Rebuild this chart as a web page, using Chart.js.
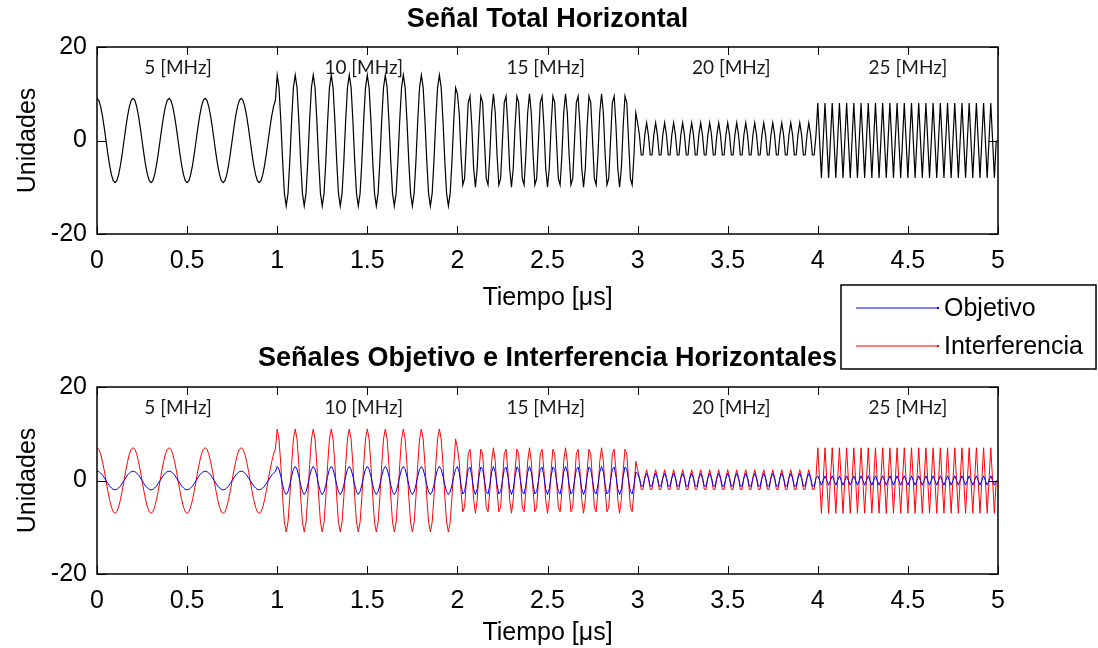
<!DOCTYPE html>
<html lang="es">
<head>
<meta charset="UTF-8">
<title>Señal Total Horizontal</title>
<script src="https://cdn.jsdelivr.net/npm/chart.js"></script>
<style>
  html, body { margin: 0; padding: 0; background: #fff; }
  #wrap { position: relative; width: 1098px; height: 648px; }
  #wrap canvas { position: absolute; left: 0; top: 0; }
</style>
</head>
<body>
<div id="wrap">
  <canvas id="topChart" width="1098" height="648"></canvas>
  <canvas id="bottomChart" width="1098" height="648"></canvas>
</div>
<script>
// muestreo cada 0.01 us; cada banda dura 1 us = 5 bloques iguales de 20 muestras
const sampleStep = 0.01;
const blocksPerBand = 5;
const bandLabels = ['5 [MHz]', '10 [MHz]', '15 [MHz]', '20 [MHz]', '25 [MHz]'];
const bandLabelX = [0.45, 1.48, 2.49, 3.52, 4.5];
const bandLabelY = 15.5;
const xTicks = [0, 0.5, 1, 1.5, 2, 2.5, 3, 3.5, 4, 4.5, 5];
const yTicks = [-20, 0, 20];

// Señal total (un bloque de 20 muestras por banda)
const total5 = [9, 8.6, 7.3, 5.3, 2.8, 0, -2.8, -5.3, -7.3, -8.6, -9, -8.6, -7.3, -5.3, -2.8, 0, 2.8, 5.3, 7.3, 8.6];
const total10 = [14, 11.3, 4.3, -4.3, -11.3, -14, -11.3, -4.3, 4.3, 11.3, 14, 11.3, 4.3, -4.3, -11.3, -14, -11.3, -4.3, 4.3, 11.3];
const total15 = [10, 5.9, -3.1, -9.5, -8.1, 0, 8.1, 9.5, 3.1, -5.9, -10, -5.9, 3.1, 9.5, 8.1, 0, -8.1, -9.5, -3.1, 5.9];
const total20 = [3.8, 1.2, -3.1, -3.1, 1.2, 3.8, 1.2, -3.1, -3.1, 1.2, 3.8, 1.2, -3.1, -3.1, 1.2, 3.8, 1.2, -3.1, -3.1, 1.2];
const total25 = [8, 0, -8, 0, 8, 0, -8, 0, 8, 0, -8, 0, 8, 0, -8, 0, 8, 0, -8, 0];

// Objetivo
const obj5 = [2, 1.9, 1.6, 1.2, 0.6, 0, -0.6, -1.2, -1.6, -1.9, -2, -1.9, -1.6, -1.2, -0.6, 0, 0.6, 1.2, 1.6, 1.9];
const obj10 = [3, 2.4, 0.9, -0.9, -2.4, -3, -2.4, -0.9, 0.9, 2.4, 3, 2.4, 0.9, -0.9, -2.4, -3, -2.4, -0.9, 0.9, 2.4];
const obj15 = [3, 1.8, -0.9, -2.9, -2.4, 0, 2.4, 2.9, 0.9, -1.8, -3, -1.8, 0.9, 2.9, 2.4, 0, -2.4, -2.9, -0.9, 1.8];
const obj20 = [1.5, 0.5, -1.2, -1.2, 0.5, 1.5, 0.5, -1.2, -1.2, 0.5, 1.5, 0.5, -1.2, -1.2, 0.5, 1.5, 0.5, -1.2, -1.2, 0.5];
const obj25 = [1, 0, -1, 0, 1, 0, -1, 0, 1, 0, -1, 0, 1, 0, -1, 0, 1, 0, -1, 0];

// Interferencia
const int5 = [7, 6.7, 5.7, 4.1, 2.2, 0, -2.2, -4.1, -5.7, -6.7, -7, -6.7, -5.7, -4.1, -2.2, 0, 2.2, 4.1, 5.7, 6.7];
const int10 = [11, 8.9, 3.4, -3.4, -8.9, -11, -8.9, -3.4, 3.4, 8.9, 11, 8.9, 3.4, -3.4, -8.9, -11, -8.9, -3.4, 3.4, 8.9];
const int15 = [7, 4.1, -2.2, -6.7, -5.7, 0, 5.7, 6.7, 2.2, -4.1, -7, -4.1, 2.2, 6.7, 5.7, 0, -5.7, -6.7, -2.2, 4.1];
const int20 = [2.3, 0.7, -1.9, -1.9, 0.7, 2.3, 0.7, -1.9, -1.9, 0.7, 2.3, 0.7, -1.9, -1.9, 0.7, 2.3, 0.7, -1.9, -1.9, 0.7];
const int25 = [7, 0, -7, 0, 7, 0, -7, 0, 7, 0, -7, 0, 7, 0, -7, 0, 7, 0, -7, 0];

const FONT = '"Liberation Sans", Arial, sans-serif';
Chart.defaults.font.family = FONT;
Chart.defaults.color = '#000';

// arma la serie: cada bloque se repite en toda su banda
function buildSeries(blocks) {
    const pts = [];
    blocks.forEach((block, band) => {
        const bandLen = block.length * blocksPerBand;
        for (let rep = 0; rep < blocksPerBand; rep++) {
            block.forEach((v, i) => {
                const n = band * bandLen + rep * block.length + i;
                pts.push({ x: +(n * sampleStep).toFixed(2), y: v });
            });
        }
    });
    return pts;
}

// caja, ticks hacia adentro, titulo, etiquetas de banda y leyenda
const panelPlugin = {
    id: 'panel',
    afterDraw(chart, args, opts) {
        const ctx = chart.ctx;
        const { left, right, top, bottom } = chart.chartArea;
        const xs = chart.scales.x, ys = chart.scales.y;
        ctx.save();

        ctx.strokeStyle = '#000';
        ctx.lineWidth = 1;
        xTicks.forEach(t => {
            const px = Math.round(xs.getPixelForValue(t)) + 0.5;
            ctx.beginPath();
            ctx.moveTo(px, bottom); ctx.lineTo(px, bottom - 8);
            ctx.moveTo(px, top); ctx.lineTo(px, top + 8);
            ctx.stroke();
        });
        yTicks.forEach(t => {
            const py = Math.round(ys.getPixelForValue(t)) + 0.5;
            ctx.beginPath();
            ctx.moveTo(left, py); ctx.lineTo(left + 9, py);
            ctx.moveTo(right, py); ctx.lineTo(right - 9, py);
            ctx.stroke();
        });
        ctx.lineWidth = 1.5;
        ctx.strokeRect(left, top, right - left, bottom - top);

        // etiquetas de banda
        ctx.fillStyle = '#1a1a1a';
        ctx.font = '19px Lato, "Open Sans", sans-serif';
        ctx.textAlign = 'center';
        ctx.textBaseline = 'middle';
        bandLabels.forEach((lab, i) => {
            ctx.fillText(lab, xs.getPixelForValue(bandLabelX[i]), ys.getPixelForValue(bandLabelY));
        });

        // titulo
        ctx.fillStyle = '#000';
        ctx.font = 'bold 27px ' + FONT;
        ctx.fillText(opts.title, (left + right) / 2, opts.titleY);

        if (opts.legend) {
            const lg = opts.legend;
            ctx.fillStyle = '#fff';
            ctx.fillRect(lg.x, lg.y, lg.w, lg.h);
            ctx.strokeStyle = '#000';
            ctx.lineWidth = 1.5;
            ctx.strokeRect(lg.x, lg.y, lg.w, lg.h);
            ctx.font = '25px ' + FONT;
            ctx.textAlign = 'left';
            chart.data.datasets.forEach((ds, i) => {
                const ly = lg.rows[i];
                ctx.strokeStyle = ds.borderColor;
                ctx.lineWidth = 1;
                ctx.beginPath();
                ctx.moveTo(lg.x + 15, ly); ctx.lineTo(lg.x + 97, ly);
                ctx.stroke();
                ctx.fillStyle = ds.borderColor;
                ctx.fillRect(lg.x + 96, ly - 1, 2, 2);
                ctx.fillStyle = '#000';
                ctx.fillText(ds.label, lg.x + 103, ly + 1);
            });
        }
        ctx.restore();
    }
};

function makeOptions(padding, xAxisHeight, xTitlePad, panel) {
    return {
        responsive: false,
        animation: false,
        events: [],
        layout: { padding: padding },
        plugins: {
            legend: { display: false },
            tooltip: { enabled: false },
            panel: panel
        },
        elements: { point: { radius: 0 }, line: { tension: 0 } },
        scales: {
            x: {
                type: 'linear',
                min: 0, max: 5,
                afterBuildTicks: s => { s.ticks = xTicks.map(v => ({ value: v })); },
                afterFit: s => { s.height = xAxisHeight; },
                grid: { display: false },
                border: { display: false },
                ticks: { padding: 4, font: { size: 25 }, maxRotation: 0, callback: v => String(v) },
                title: { display: true, text: 'Tiempo [μs]', font: { size: 25 }, padding: { top: 0, bottom: xTitlePad } }
            },
            y: {
                min: -20, max: 20,
                afterBuildTicks: s => { s.ticks = yTicks.map(v => ({ value: v })); },
                afterFit: s => { s.width = 97; },
                grid: { display: false },
                border: { display: false },
                ticks: { padding: 2, font: { size: 25 } },
                title: { display: true, text: 'Unidades', font: { size: 25 }, padding: { top: 13, bottom: 0 } }
            }
        }
    };
}

new Chart(document.getElementById('topChart'), {
    type: 'line',
    data: {
        datasets: [{
            label: 'Total',
            data: buildSeries([total5, total10, total15, total20, total25]),
            borderColor: '#000',
            borderWidth: 1.2
        }]
    },
    options: makeOptions({ top: 47, right: 100, bottom: 324, left: 0 }, 90, 11,
        { title: 'Señal Total Horizontal', titleY: 20 }),
    plugins: [panelPlugin]
});

new Chart(document.getElementById('bottomChart'), {
    type: 'line',
    data: {
        datasets: [
            {
                label: 'Objetivo',
                data: buildSeries([obj5, obj10, obj15, obj20, obj25]),
                borderColor: '#0000ff',
                borderWidth: 1
            },
            {
                label: 'Interferencia',
                data: buildSeries([int5, int10, int15, int20, int25]),
                borderColor: '#ff0000',
                borderWidth: 1
            }
        ]
    },
    options: makeOptions({ top: 387, right: 100, bottom: 0, left: 0 }, 74, 0,
        { title: 'Señales Objetivo e Interferencia Horizontales', titleY: 359,
          legend: { x: 841, y: 285, w: 255, h: 84, rows: [308, 346] } }),
    plugins: [panelPlugin]
});
</script>
</body>
</html>
